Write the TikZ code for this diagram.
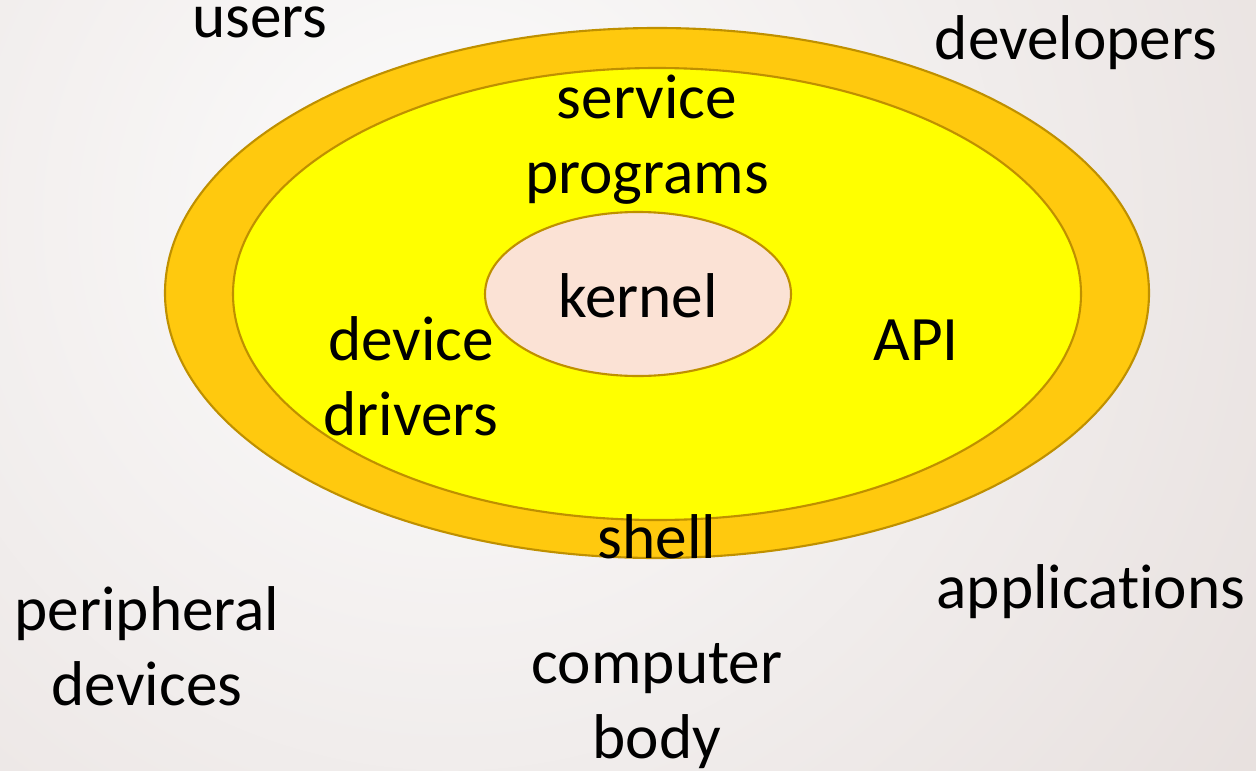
\documentclass[tikz,border=0pt]{standalone}
\usepackage{fontspec}
\setmainfont[Ligatures=NoCommon]{Carlito}
\usetikzlibrary{shadings}

\definecolor{ringgold}{RGB}{255,201,14}
\definecolor{ringedge}{RGB}{191,144,0}
\definecolor{coreyellow}{RGB}{255,255,0}
\definecolor{kernelpink}{RGB}{251,226,213}
\definecolor{bgin}{RGB}{252,252,252}
\definecolor{bgout}{RGB}{229,221,219}

\tikzset{
	ring/.style={draw=ringedge, line width=.6pt},
	lbl/.style={anchor=base, align=center, inner sep=0pt,
		font=\fontsize{18}{21.3}\selectfont}
}

\begin{document}
\begin{tikzpicture}
		% Fondo
		\useasboundingbox (0, 0) rectangle (12.56, 7.70);
		\begin{scope}
			\clip (0, 0) rectangle (12.56, 7.70);
			\shade[inner color=bgin, outer color=bgout] (4.5, 5.5) circle (11);
		\end{scope}
		
		% Capas
		\draw[ring, fill=ringgold] (6.57, 4.77) ellipse (4.92 and 2.65);
		\draw[ring, fill=coreyellow] (6.57, 4.76) ellipse (4.24 and 2.26);
		\draw[ring, fill=kernelpink] (6.38, 4.76) ellipse (1.53 and .82);
		
		% Textos de las capas
		\node[lbl] (kernel) at (6.38, 4.53) {kernel};
		\node[lbl] (service) at (6.47, 5.77) {service\\programs};
		\node[lbl] (drivers) at (4.11, 3.35) {device\\drivers};
		\node[lbl] (api) at (9.16, 4.10) {API};
		\node[lbl] (shell) at (6.57, 2.12) {shell};
		
		% Textos exteriores
		\node[lbl] (users) at (2.60, 7.32) {users};
		\node[lbl] (developers) at (10.76, 7.10) {developers};
		\node[lbl] (applications) at (10.91, 1.62) {applications};
		\node[lbl] (peripheral) at (1.47, .65) {peripheral\\devices};
		\node[lbl] (body) at (6.57, .12) {computer\\body};
	\end{tikzpicture}
\end{document}
